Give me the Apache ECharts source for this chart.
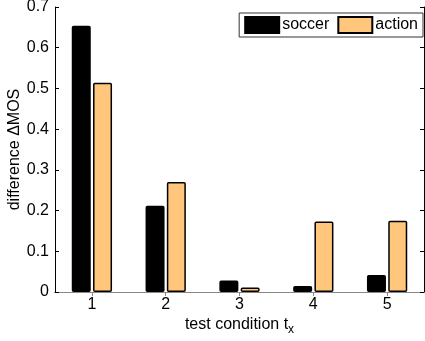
<!DOCTYPE html>
<html>
<head>
<meta charset="utf-8">
<script src="https://cdn.jsdelivr.net/npm/echarts@6/dist/echarts.min.js"></script>
<style>
html, body { margin: 0; padding: 0; background: #fff; }
#chart { width: 425px; height: 341px; }
</style>
</head>
<body>
<div id="chart"></div>
<script>
// test conditions
var conditions = ['1', '2', '3', '4', '5'];
// difference per condition
var soccerData = [0.654, 0.212, 0.028, 0.015, 0.042];
var actionData = [0.514, 0.270, 0.011, 0.173, 0.175];
var yTicks = { min: 0, max: 0.7, step: 0.1 };

var myChart = echarts.init(document.getElementById('chart'));
var font = 'Liberation Sans, Arial, Helvetica, sans-serif';

var option = {
    animation: false,
    textStyle: { fontFamily: font },
    grid: { left: 55, right: 1, top: 7, bottom: 49, containLabel: false, outerBoundsMode: 'none' },
    legend: {
        right: 2,
        top: 13,
        orient: 'horizontal',
        padding: [3, 5, 3, 5],
        itemGap: 8,
        itemWidth: 34,
        itemHeight: 16,
        borderColor: '#333',
        borderWidth: 1,
        backgroundColor: '#fff',
        textStyle: { color: '#000', fontSize: 16, fontFamily: font, padding: [0, 0, 0, -2] },
        data: [{ name: 'soccer', icon: 'rect' }, { name: 'action', icon: 'rect' }]
    },
    xAxis: [{
        type: 'category',
        data: conditions,
        position: 'bottom',
        name: 'test condition t{sub|x}',
        nameLocation: 'middle',
        nameGap: 22,
        nameMoveOverlap: false,
        nameTextStyle: {
            color: '#000', fontSize: 16, fontFamily: font,
            rich: { sub: { fontSize: 12, fontFamily: font, color: '#000', verticalAlign: 'bottom', padding: [10, 0, 0, 0] } }
        },
        axisLine: { lineStyle: { color: '#000', width: 1 } },
        axisTick: { show: false },
        axisLabel: { color: '#000', fontSize: 16, margin: 5 },
        splitLine: { show: false }
    }, {
        type: 'category',
        data: conditions,
        position: 'top',
        axisLine: { lineStyle: { color: '#888', width: 1 } },
        axisTick: { show: true, inside: true, alignWithLabel: true, length: 4, lineStyle: { color: '#888' } },
        axisLabel: { show: false }
    }],
    yAxis: [{
        type: 'value',
        min: yTicks.min,
        max: yTicks.max,
        interval: yTicks.step,
        name: 'difference \u0394MOS',
        nameLocation: 'middle',
        nameGap: 32,
        nameMoveOverlap: false,
        nameTextStyle: { color: '#000', fontSize: 16, fontFamily: font },
        axisLine: { show: true, lineStyle: { color: '#000', width: 1 } },
        axisTick: { show: true, inside: true, length: 4, lineStyle: { color: '#000' } },
        axisLabel: { color: '#000', fontSize: 16, margin: 6 },
        splitLine: { show: false }
    }, {
        type: 'value',
        position: 'right',
        min: yTicks.min,
        max: yTicks.max,
        interval: yTicks.step,
        axisLine: { show: true, lineStyle: { color: '#000', width: 1 } },
        axisTick: { show: true, inside: true, length: 4, lineStyle: { color: '#000' } },
        axisLabel: { show: false },
        splitLine: { show: false }
    }],
    series: [{
        name: 'soccer',
        type: 'bar',
        data: soccerData,
        barWidth: 19,
        barGap: '12%',
        itemStyle: { color: '#000', borderColor: '#000', borderWidth: 1.5, borderRadius: 1 }
    }, {
        name: 'action',
        type: 'bar',
        data: actionData,
        barWidth: 19,
        itemStyle: { color: '#ffc67c', borderColor: '#000', borderWidth: 1.5, borderRadius: 1 }
    }]
};
myChart.setOption(option);
</script>
</body>
</html>
